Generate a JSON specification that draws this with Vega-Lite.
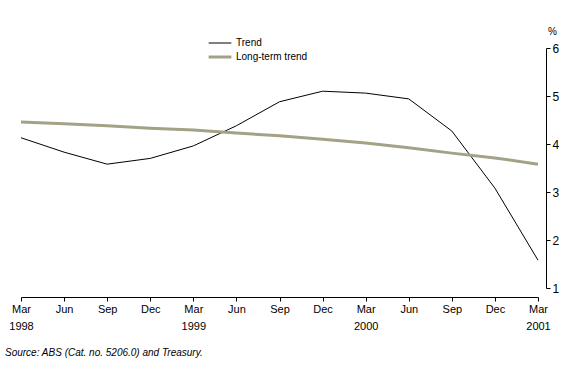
{
  "$schema": "https://vega.github.io/schema/vega-lite/v6.json",
  "width": 517,
  "height": 240,
  "autosize": "none",
  "padding": {"left": 21, "top": 48, "right": 29, "bottom": 90},
  "background": "white",
  "config": {
    "view": {"stroke": null},
    "font": "Liberation Sans",
    "axis": {"labelFont": "Liberation Sans", "labelColor": "black", "domainColor": "black", "tickColor": "black", "grid": false}
  },
  "title": {
    "text": "Source: ABS (Cat. no. 5206.0) and Treasury.",
    "orient": "bottom",
    "anchor": "start",
    "frame": "group",
    "dx": -16,
    "offset": 17,
    "fontSize": 10,
    "fontStyle": "italic",
    "fontWeight": "normal",
    "color": "black"
  },
  "data": {
    "values": [
      {"quarter": "Mar 1998", "series": "Trend", "value": 4.13},
      {"quarter": "Jun 1998", "series": "Trend", "value": 3.83},
      {"quarter": "Sep 1998", "series": "Trend", "value": 3.58},
      {"quarter": "Dec 1998", "series": "Trend", "value": 3.70},
      {"quarter": "Mar 1999", "series": "Trend", "value": 3.96},
      {"quarter": "Jun 1999", "series": "Trend", "value": 4.38},
      {"quarter": "Sep 1999", "series": "Trend", "value": 4.88},
      {"quarter": "Dec 1999", "series": "Trend", "value": 5.10},
      {"quarter": "Mar 2000", "series": "Trend", "value": 5.06},
      {"quarter": "Jun 2000", "series": "Trend", "value": 4.94},
      {"quarter": "Sep 2000", "series": "Trend", "value": 4.27},
      {"quarter": "Dec 2000", "series": "Trend", "value": 3.08},
      {"quarter": "Mar 2001", "series": "Trend", "value": 1.58},
      {"quarter": "Mar 1998", "series": "Long-term trend", "value": 4.46},
      {"quarter": "Jun 1998", "series": "Long-term trend", "value": 4.42},
      {"quarter": "Sep 1998", "series": "Long-term trend", "value": 4.38},
      {"quarter": "Dec 1998", "series": "Long-term trend", "value": 4.33},
      {"quarter": "Mar 1999", "series": "Long-term trend", "value": 4.29},
      {"quarter": "Jun 1999", "series": "Long-term trend", "value": 4.23},
      {"quarter": "Sep 1999", "series": "Long-term trend", "value": 4.17},
      {"quarter": "Dec 1999", "series": "Long-term trend", "value": 4.10},
      {"quarter": "Mar 2000", "series": "Long-term trend", "value": 4.02},
      {"quarter": "Jun 2000", "series": "Long-term trend", "value": 3.92},
      {"quarter": "Sep 2000", "series": "Long-term trend", "value": 3.81},
      {"quarter": "Dec 2000", "series": "Long-term trend", "value": 3.71},
      {"quarter": "Mar 2001", "series": "Long-term trend", "value": 3.58}
    ]
  },
  "mark": {"type": "line", "interpolate": "linear"},
  "encoding": {
    "x": {
      "field": "quarter",
      "type": "ordinal",
      "sort": null,
      "scale": {"type": "point", "padding": 0},
      "axis": {
        "title": null,
        "labelAngle": 0,
        "offset": 9,
        "tickSize": 4,
        "labelPadding": 2,
        "labelFontSize": 11,
        "labelLineHeight": 17,
        "labelBaseline": "top",
        "labelExpr": "indexof(datum.value, 'Mar') == 0 ? split(datum.value, ' ') : substring(datum.value, 0, 3)"
      }
    },
    "y": {
      "field": "value",
      "type": "quantitative",
      "scale": {"domain": [1, 6], "nice": false, "zero": false},
      "axis": {
        "orient": "right",
        "offset": 8,
        "values": [1, 2, 3, 4, 5, 6],
        "tickSize": 4,
        "labelPadding": 2,
        "labelFontSize": 12,
        "title": "%",
        "titleAngle": 0,
        "titleFontSize": 10,
        "titleFontWeight": "normal",
        "titleX": 6,
        "titleY": -12,
        "titleAlign": "center"
      }
    },
    "color": {
      "field": "series",
      "type": "nominal",
      "scale": {"domain": ["Trend", "Long-term trend"], "range": ["#000000", "#a3a287"]},
      "legend": {
        "title": null,
        "orient": "none",
        "legendX": 191,
        "legendY": -12,
        "symbolType": "M-1.75,0H1.75",
        "symbolSize": 169,
        "labelFontSize": 10,
        "labelOffset": 8,
        "rowPadding": 1
      }
    },
    "strokeWidth": {
      "field": "series",
      "type": "nominal",
      "scale": {"domain": ["Trend", "Long-term trend"], "range": [1, 3]},
      "legend": {
        "title": null,
        "orient": "none",
        "legendX": 191,
        "legendY": -12,
        "symbolType": "M-1.75,0H1.75",
        "symbolSize": 169,
        "labelFontSize": 10,
        "labelOffset": 8,
        "rowPadding": 1
      }
    }
  }
}
